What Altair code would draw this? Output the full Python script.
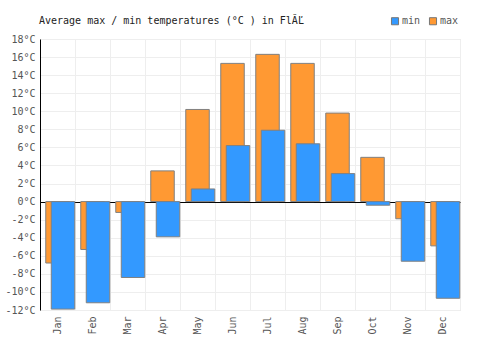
import altair as alt
import pandas as pd

months = ["Jan", "Feb", "Mar", "Apr", "May", "Jun", "Jul", "Aug", "Sep", "Oct", "Nov", "Dec"]
max_temps = [-6.8, -5.3, -1.2, 3.4, 10.2, 15.3, 16.3, 15.3, 9.8, 4.9, -1.9, -4.9]
min_temps = [-11.9, -11.2, -8.4, -3.9, 1.4, 6.2, 7.9, 6.4, 3.1, -0.4, -6.6, -10.7]
y_ticks = list(range(-12, 20, 2))
title_text = "Average max / min temperatures (°C ) in Fl\u0102\u013d"

rows = []
for m, v in zip(months, max_temps):
    rows.append({"month": m, "series": "max", "value": v})
for m, v in zip(months, min_temps):
    rows.append({"month": m, "series": "min", "value": v})
df = pd.DataFrame(rows)

FONT = "DejaVu Sans Mono"

x_enc = alt.X(
    "month:N",
    sort=months,
    scale=alt.Scale(paddingInner=0, paddingOuter=0),
    axis=alt.Axis(
        title=None,
        labelAngle=-90,
        labelFont=FONT,
        labelFontSize=10,
        labelColor="#555",
        domain=False,
        ticks=False,
        grid=True,
        tickBand="extent",
        gridColor="#eeeeee",
        labelPadding=6,
    ),
)
y_enc = alt.Y(
    "value:Q",
    stack=None,
    scale=alt.Scale(domain=[-12, 18], nice=False),
    axis=alt.Axis(
        title=None,
        values=y_ticks,
        labelExpr="datum.value + '°C'",
        labelFont=FONT,
        labelFontSize=10,
        labelColor="#555",
        labelOverlap=False,
        labelFlush=False,
        ticks=False,
        domainColor="#000",
        gridColor={"condition": {"test": "datum.value === 0", "value": "#000000"}, "value": "#eeeeee"},
        labelPadding=5,
    ),
)
color_enc = alt.Color(
    "series:N",
    scale=alt.Scale(domain=["min", "max"], range=["#3399ff", "#ff9933"]),
    legend=alt.Legend(
        title=title_text,
        titleOrient="left",
        titleAnchor="start",
        titleBaseline="top",
        titleFont=FONT,
        titleFontSize=10,
        titleFontWeight="normal",
        titleColor="#222",
        titleLimit=400,
        titlePadding=86,
        orient="none",
        legendX=-1,
        legendY=-23,
        direction="horizontal",
        symbolType="square",
        symbolSize=50,
        symbolStrokeColor="#777",
        symbolStrokeWidth=1,
        symbolOpacity=1,
        labelFont=FONT,
        labelFontSize=10,
        labelColor="#555",
        columnPadding=6,
        labelOffset=2,
    ),
)

chart = alt.Chart(df).mark_bar(
    width=23.5,
    xOffset=alt.expr("datum.series == 'min' ? 5.5 : 0"),
    stroke="#808080",
    strokeWidth=1,
    opacity=1,
).encode(x=x_enc, y=y_enc, color=color_enc).properties(
    width=420,
    height=271,
    autosize=alt.AutoSizeParams(type="none"),
    padding={"left": 40, "top": 39, "right": 40, "bottom": 40},
).configure_view(stroke=None).configure(background="white")

chart.save("out.html", embed_options={"renderer": "svg", "actions": False})
